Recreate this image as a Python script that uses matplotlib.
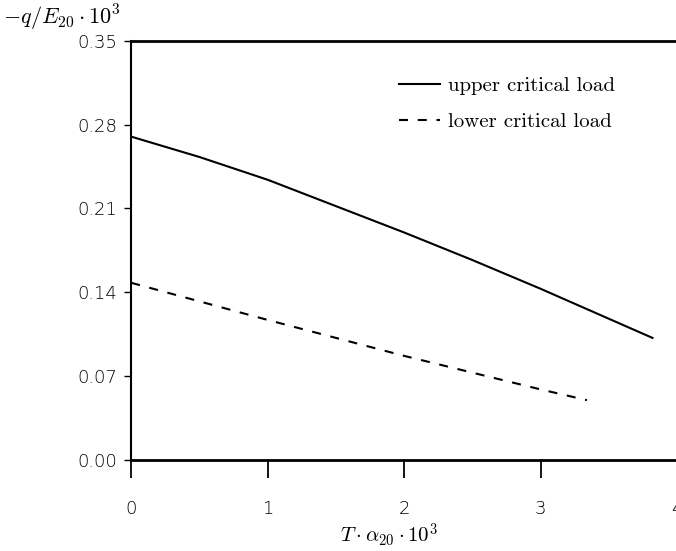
import matplotlib
matplotlib.use("Agg")
import matplotlib.pyplot as plt

# values
upper_x = [0.0, 0.5, 1.0, 1.5, 2.0, 2.5, 3.0, 3.5, 3.82]
upper_y = [0.270, 0.253, 0.234, 0.212, 0.190, 0.167, 0.143, 0.118, 0.102]
lower_x = [0.0, 1.0, 2.0, 3.0, 3.34]
lower_y = [0.148, 0.117, 0.087, 0.059, 0.050]
yticks = [0.00, 0.07, 0.14, 0.21, 0.28, 0.35]
xticks = [0, 1, 2, 3, 4]

plt.rcParams["mathtext.fontset"] = "cm"
plt.rcParams["lines.scale_dashes"] = False

fig = plt.figure(figsize=(6.76, 5.51), dpi=100)
ax = fig.add_axes([0.194, 0.165, 0.8075, 0.761])

ax.plot(upper_x, upper_y, "-", color="black", lw=1.5, label="upper critical load")
ax.plot(lower_x, lower_y, color="black", lw=1.5, ls=(0, (6.5, 7)), label="lower critical load")

ax.set_xlim(0, 4)
ax.set_ylim(0, 0.35)
ax.set_xticks(xticks)
ax.set_xticklabels([str(t) for t in xticks])
ax.set_yticks(yticks)
ax.set_yticklabels([f"{t:.2f}" for t in yticks])
ax.tick_params(axis="x", direction="out", length=13, width=1.3, pad=16, labelsize=13)
ax.tick_params(axis="y", direction="out", length=5, width=1.0, pad=5, labelsize=13)
for t in ax.get_xticklabels() + ax.get_yticklabels():
    t.set_family("DejaVu Sans")
    t.set_fontweight("light")

ax.spines["top"].set_linewidth(2.0)
ax.spines["bottom"].set_linewidth(2.0)
ax.spines["left"].set_linewidth(1.5)
ax.spines["right"].set_linewidth(1.5)

fig.text(0.575, 0.015, r"$T\cdot\alpha_{20}\cdot10^3$", fontsize=15, ha="center", va="baseline")
fig.text(0.005, 0.967, r"$-q/E_{20}\cdot10^3$", fontsize=16, ha="left", va="center")

ax.legend(loc="upper left", bbox_to_anchor=(0.49, 0.915), frameon=False,
          prop={"family": "cmr10", "size": 15}, handlelength=2.0,
          handletextpad=0.35, labelspacing=0.85, borderpad=0, borderaxespad=0)

fig.savefig("out.png", dpi=100)
